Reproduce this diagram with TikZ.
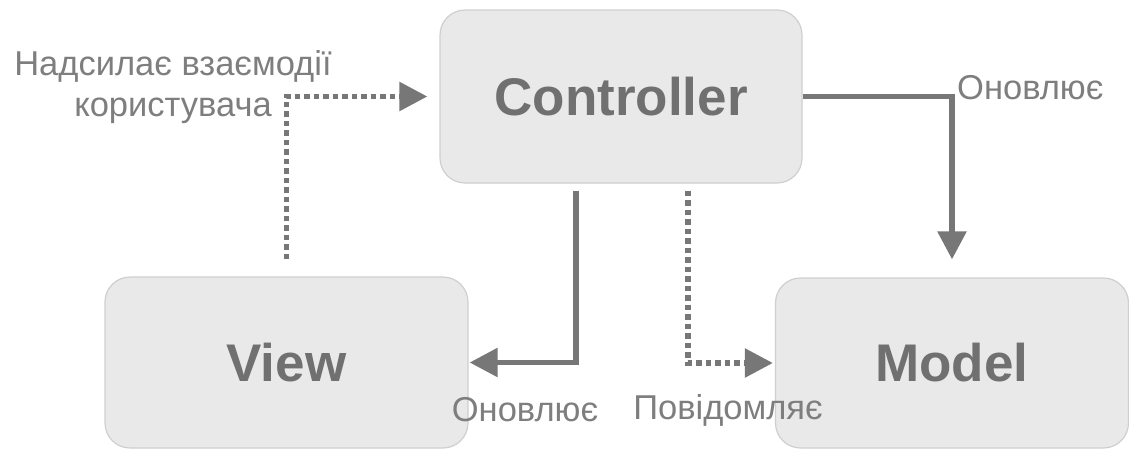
\documentclass[tikz,border=0pt]{standalone}
\usepackage{fontspec}
\setmainfont{Liberation Sans}
\usetikzlibrary{arrows.meta}
\definecolor{linegray}{HTML}{777777}
\definecolor{boxfill}{HTML}{E9E9E9}
\definecolor{boxdraw}{HTML}{CFCFCF}
\definecolor{boxtext}{HTML}{707070}
\definecolor{labeltext}{HTML}{7E7E7E}
\tikzset{
  mvcbox/.style={draw=boxdraw, line width=1.2pt, fill=boxfill, rounded corners=25pt,
    inner sep=0pt, text=boxtext, font=\fontsize{53}{60}\selectfont\bfseries},
  solidarrow/.style={draw=linegray, line width=5.5pt,
    -{Triangle[length=28pt,width=28pt]}},
  dotarrow/.style={draw=linegray, line width=5.5pt, dash pattern=on 5.5pt off 4pt,
    -{Triangle[length=28pt,width=28pt]}},
  lbl/.style={text=labeltext, font=\fontsize{34.5}{41}\selectfont, inner sep=0pt}
}
\begin{document}
\begin{tikzpicture}[x=1pt,y=-1pt]
\useasboundingbox (0,0) rectangle (1129,450);
\node[mvcbox, minimum width=362pt, minimum height=173pt] (ctrl) at (621,96.5) {Controller};
\node[mvcbox, minimum width=363pt, minimum height=171pt] (view) at (286.5,362.5) {View};
\node[mvcbox, minimum width=353pt, minimum height=170pt] (model) at (952,363) {Model};

\draw[dotarrow, shorten <=17pt, shorten >=12pt] (view.north) |- (ctrl.west);
\draw[solidarrow, shorten >=18pt] (ctrl.east) -| (model.north);
\draw[solidarrow, shorten <=7pt, shorten >=1pt] ([xshift=-45pt]ctrl.south) |- (view.east);
\draw[dotarrow, shorten <=7pt, shorten >=2pt] ([xshift=67pt]ctrl.south) |- (model.west);

\node[lbl, align=center] (sends) at (173,87) {Надсилає взаємодії\\користувача};
\node[lbl, anchor=west] (upd1) at (957,88) {Оновлює};
\node[lbl] (upd2) at (525,410) {Оновлює};
\node[lbl] (notif) at (728,410) {Повідомляє};
\end{tikzpicture}
\end{document}
